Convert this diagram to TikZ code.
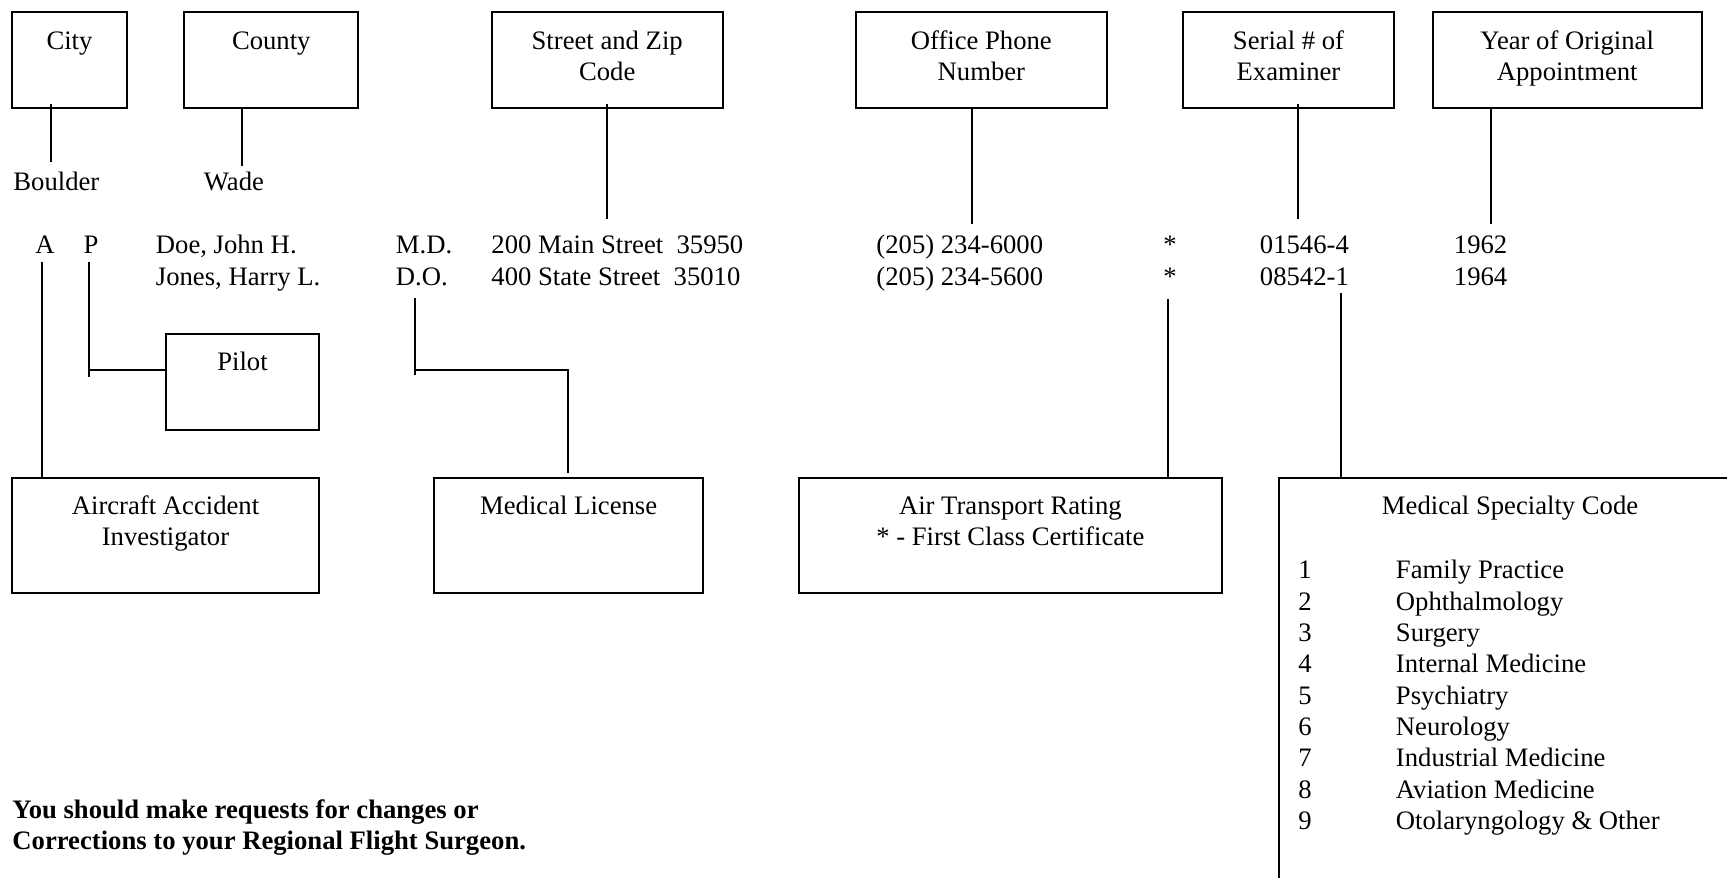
\documentclass[tikz,border=0pt]{standalone}
\usepackage{fontspec}
\setmainfont{Liberation Serif}
\usetikzlibrary{fit}
\begin{document}
\begin{tikzpicture}[x=0.45pt,y=-0.45pt,
  box/.style={draw, line width=1pt, inner sep=0pt},
  conn/.style={line width=0.8pt},
  tx/.style={inner sep=0pt, anchor=north, align=center, font=\fontsize{12}{13.8}\selectfont},
  dt/.style={inner sep=0pt, anchor=base west, font=\fontsize{12}{13.8}\selectfont},
  dc/.style={inner sep=0pt, anchor=base, font=\fontsize{12}{13.8}\selectfont},
  lst/.style={inner sep=0pt, font=\fontsize{12}{14.1}\selectfont},
  note/.style={inner sep=0pt, anchor=north west, align=left, font=\fontsize{12}{13.95}\selectfont\bfseries}]
\useasboundingbox (0,0) rectangle (1727,878);
\clip (0,0) rectangle (1727,878);

% top boxes
\node[box, fit={(11.7,12) (127.3,108)}] (city) {};
\node[box, fit={(184.3,12) (358.3,108)}] (county) {};
\node[box, fit={(491.7,12) (722.7,108)}] (street) {};
\node[box, fit={(856,12) (1106.7,108)}] (office) {};
\node[box, fit={(1182.7,12) (1394.3,108)}] (serial) {};
\node[box, fit={(1432.7,12) (1701.7,108)}] (year) {};

\node[tx] (cityT) at (city.north |- 0,27.7) {\strut City};
\node[tx] (countyT) at (county.north |- 0,27.7) {\strut County};
\node[tx] (streetT) at (street.north |- 0,27.7) {\strut Street and Zip\\Code};
\node[tx] (officeT) at (office.north |- 0,27.7) {\strut Office Phone\\Number};
\node[tx] (serialT) at (serial.north |- 0,27.7) {\strut Serial \# of\\Examiner};
\node[tx] (yearT) at (year.north |- 0,27.7) {\strut Year of Original\\Appointment};

% place names
\node[dt] (boulder) at (13,190) {Boulder};
\node[dt] (wade) at (203.5,190) {Wade};

% data rows
\node[dc] (rA) at (45,253.5) {A};
\node[dc] (rP) at (91,253.5) {P};
\node[dt] (doe) at (155.5,253.5) {Doe, John H.};
\node[dt] (jones) at (155.5,285) {Jones, Harry L.};
\node[dt] (md) at (395.5,253.5) {M.D.};
\node[dt] (do) at (395.5,285) {D.O.};
\node[dt] (st1) at (491,253.5) {200 Main Street\ \ 35950};
\node[dt] (st2) at (491,285) {400 State Street\ \ 35010};
\node[dt] (ph1) at (876,253.5) {(205) 234-6000};
\node[dt] (ph2) at (876,285) {(205) 234-5600};
\node[dc] (as1) at (1170,253.5) {*};
\node[dc] (as2) at (1170,285) {*};
\node[dt] (se1) at (1259.5,253.5) {01546-4};
\node[dt] (se2) at (1259.5,285) {08542-1};
\node[dt] (yr1) at (1453.5,253.5) {1962};
\node[dt] (yr2) at (1453.5,285) {1964};

% top connectors
\coordinate (cityE) at (50.7,162);
\coordinate (countyE) at (242.3,166);
\coordinate (streetE) at (607.3,219);
\coordinate (officeE) at (971.7,224);
\coordinate (serialE) at (1298.3,219.3);
\coordinate (yearE) at (1490.7,224);
\draw[conn] (cityE |- city.south) ++(0,-5) -- (cityE);
\draw[conn] (countyE |- county.south) -- (countyE);
\draw[conn] (streetE |- street.south) ++(0,-5) -- (streetE);
\draw[conn] (officeE |- office.south) -- (officeE);
\draw[conn] (serialE |- serial.south) ++(0,-5) -- (serialE);
\draw[conn] (yearE |- year.south) -- (yearE);

% lower boxes
\node[box, fit={(165.7,334.3) (319.3,430)}] (pilot) {};
\node[box, fit={(11.7,478.3) (319.3,593.3)}] (aircraft) {};
\node[box, fit={(434,478.3) (703.3,593.3)}] (license) {};
\node[box, fit={(799,478.3) (1221.7,593.3)}] (transport) {};
\node[box, fit={(1279.3,478.3) (1760,920)}] (specialty) {};

\node[tx] (pilotT) at (pilot.north |- 0,348.5) {\strut Pilot};
\node[tx] (aircraftT) at (aircraft.north |- 0,493) {\strut Aircraft Accident\\Investigator};
\node[tx] (licenseT) at (license.north |- 0,493) {\strut Medical License};
\node[tx] (transportT) at (transport.north |- 0,493) {\strut Air Transport Rating\\* - First Class Certificate};
\node[dt] (specT) at (1381.5,514.5) {Medical Specialty Code};
\node[lst, anchor=north, align=center] (specN) at (1305,556.6) {\strut 1\\2\\3\\4\\5\\6\\7\\8\\9};
\node[lst, anchor=north west, align=left] (specL) at (1395.5,556.6) {\strut Family Practice\\Ophthalmology\\Surgery\\Internal Medicine\\Psychiatry\\Neurology\\Industrial Medicine\\Aviation Medicine\\Otolaryngology \& Other};

% lower connectors
\coordinate (aS) at (42,261.7);
\draw[conn] (aS) -- (aS |- aircraft.north);
\coordinate (pS) at (89,261.7);
\coordinate (pE) at (89,376.7);
\coordinate (pJ) at (89,370);
\draw[conn] (pS) -- (pE);
\draw[conn] (pJ) -- (pJ -| pilot.west);
\coordinate (dS) at (415,298.3);
\coordinate (dE) at (415,375);
\coordinate (dJ) at (415,370);
\coordinate (lE) at (568.3,473.3);
\draw[conn] (dS) -- (dE);
\draw[conn] (dJ) -| (lE);
\coordinate (sS) at (1168.3,299.3);
\draw[conn] (sS) -- (sS |- transport.north);
\coordinate (eS) at (1340.7,293.3);
\draw[conn] (eS) -- (eS |- specialty.north);

% note
\node[note] (notetext) at (12,796.3) {\strut You should make requests for changes or\\Corrections to your Regional Flight Surgeon.};
\end{tikzpicture}
\end{document}
